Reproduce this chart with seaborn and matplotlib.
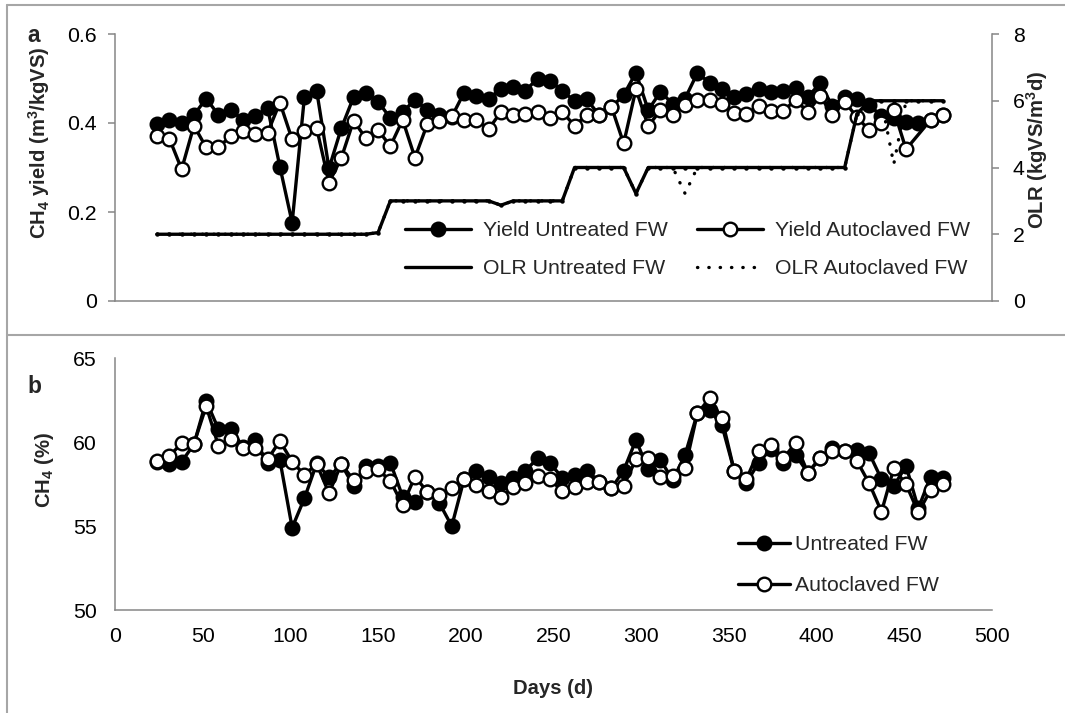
import numpy as np
import pandas as pd
import matplotlib
matplotlib.use('Agg')
import matplotlib.pyplot as plt
import seaborn as sns
from matplotlib.lines import Line2D
from matplotlib.ticker import MultipleLocator, FuncFormatter

# ---------------- data ----------------
days = [24, 31, 38, 45, 52, 59, 66, 73, 80, 87, 94, 101, 108, 115, 122, 129,
        136, 143, 150, 157, 164, 171, 178, 185, 192, 199, 206, 213, 220, 227,
        234, 241, 248, 255, 262, 269, 276, 283, 290, 297, 304, 311, 318, 325,
        332, 339, 346, 353, 360, 367, 374, 381, 388, 395, 402, 409, 416, 423,
        430, 437, 444, 451, 458, 465, 472]

yield_untreated = [0.397, 0.407, 0.399, 0.418, 0.455, 0.418, 0.429, 0.407, 0.416, 0.434,
                   0.302, 0.176, 0.459, 0.472, 0.298, 0.388, 0.458, 0.467, 0.448, 0.411,
                   0.425, 0.452, 0.429, 0.418, 0.414, 0.468, 0.461, 0.455, 0.476, 0.482,
                   0.473, 0.500, 0.495, 0.473, 0.449, 0.453, 0.418, 0.435, 0.463, 0.513,
                   0.429, 0.470, 0.443, 0.455, 0.512, 0.491, 0.476, 0.459, 0.465, 0.476,
                   0.470, 0.471, 0.478, 0.459, 0.489, 0.438, 0.459, 0.453, 0.440, 0.416,
                   0.411, 0.403, 0.401, 0.407, 0.418]

yield_autoclaved = [0.371, 0.365, 0.296, 0.394, 0.345, 0.345, 0.371, 0.383, 0.375, 0.378,
                    0.446, 0.363, 0.382, 0.388, 0.266, 0.321, 0.405, 0.366, 0.384, 0.348,
                    0.407, 0.322, 0.397, 0.405, 0.416, 0.407, 0.407, 0.386, 0.425, 0.418,
                    0.420, 0.424, 0.411, 0.425, 0.394, 0.418, 0.418, 0.437, 0.354, 0.476,
                    0.393, 0.429, 0.418, 0.440, 0.452, 0.452, 0.443, 0.423, 0.421, 0.438,
                    0.427, 0.427, 0.452, 0.425, 0.461, 0.418, 0.448, 0.413, 0.384, 0.399,
                    0.429, 0.341, np.nan, 0.407, 0.419]

olr_untreated = [2, 2, 2, 2, 2, 2, 2, 2, 2, 2, 2, 2, 2, 2, 2, 2, 2, 2, 2.05, 3,
                 3, 3, 3, 3, 3, 3, 3, 3, 2.87, 3, 3, 3, 3, 3, 4, 4, 4, 4, 4, 3.22,
                 4, 4, 4, 4, 4, 4, 4, 4, 4, 4, 4, 4, 4, 4, 4, 4, 4, 5.6, 6, 6,
                 6, 6, 6, 6, 6]

olr_autoclaved = [2, 2, 2, 2, 2, 2, 2, 2, 2, 2, 2, 2, 2, 2, 2, 2, 2, 2, 2.05, 3,
                  3, 3, 3, 3, 3, 3, 3, 3, 2.87, 3, 3, 3, 3, 3, 4, 4, 4, 4, 4, 3.22,
                  4, 4, 4, 3.22, 4, 4, 4, 4, 4, 4, 4, 4, 4, 4, 4, 4, 4, 5.6, 6, 6,
                  4.1, 6, 6, 6, 6]

ch4_untreated = [58.83, 58.69, 58.83, 59.86, 62.45, 60.76, 60.76, 59.72, 60.12, 58.73,
                 58.93, 54.90, 56.65, 58.73, 57.90, 58.69, 57.38, 58.57, 58.57, 58.77,
                 56.75, 56.45, 57.04, 56.35, 55.00, 57.78, 58.30, 57.94, 57.58, 57.88,
                 58.30, 59.03, 58.73, 57.88, 58.04, 58.30, 57.64, 57.24, 58.30, 60.12,
                 58.37, 58.93, 57.74, 59.23, 61.70, 61.90, 61.00, 58.30, 57.58, 58.77,
                 59.60, 58.73, 59.23, 58.17, 59.03, 59.62, 59.46, 59.52, 59.33, 57.78,
                 57.38, 58.57, 56.05, 57.94, 57.84]

ch4_autoclaved = [58.87, 59.17, 59.92, 59.90, 62.14, 59.76, 60.16, 59.62, 59.62, 58.97,
                  60.06, 58.83, 58.04, 58.69, 56.95, 58.69, 57.74, 58.30, 58.37, 57.68,
                  56.25, 57.94, 57.04, 56.85, 57.28, 57.78, 57.44, 57.10, 56.70, 57.34,
                  57.58, 57.98, 57.78, 57.08, 57.30, 57.64, 57.64, 57.24, 57.40, 58.97,
                  59.03, 57.90, 57.98, 58.43, 61.70, 62.60, 61.40, 58.30, 57.80, 59.46,
                  59.82, 59.03, 59.92, 58.17, 59.03, 59.48, 59.46, 58.87, 57.54, 55.85,
                  58.43, 57.48, 55.81, 57.14, 57.48]

yield_labels = ["Yield Untreated FW", "Yield Autoclaved FW"]
olr_labels = ["OLR Untreated FW", "OLR Autoclaved FW"]
ch4_labels = ["Untreated FW", "Autoclaved FW"]

# ---------------- style ----------------
sns.set_style('white')
plt.rcParams['font.family'] = ['Liberation Sans', 'DejaVu Sans']
plt.rcParams['mathtext.fontset'] = 'custom'
plt.rcParams['mathtext.rm'] = 'Liberation Sans:bold'
plt.rcParams['mathtext.it'] = 'Liberation Sans:bold'
plt.rcParams['mathtext.bf'] = 'Liberation Sans:bold'
plt.rcParams['mathtext.default'] = 'regular'

FS = 15.3
FSL = 14.6
GRAY = '#868686'
BORDER = '#a6a6a6'
LW = 2.4
MS = 9.8
MEW = 1.7

W, H = 1065, 713
fig = plt.figure(figsize=(W / 100, H / 100), dpi=100)


def fx(px):
    return px / W


def fy(py):
    return 1 - py / H


ax1 = fig.add_axes([fx(115), fy(301), fx(992) - fx(115), fy(34) - fy(301)])
ax2 = fig.add_axes([fx(115), fy(610), fx(992) - fx(115), fy(358) - fy(610)])
axr = ax1.twinx()


def draw_series(ax, x, y, filled, z):
    d = pd.DataFrame({'x': x, 'y': y}).dropna()
    sns.lineplot(data=d, x='x', y='y', ax=ax, color='black', lw=LW,
                 marker='o', markersize=MS,
                 markerfacecolor='black' if filled else 'white',
                 markeredgecolor='black', markeredgewidth=MEW,
                 sort=False, estimator=None, legend=False, zorder=z)


# panel a: yields
draw_series(ax1, days, yield_untreated, True, 3)
draw_series(ax1, days, yield_autoclaved, False, 4)

# panel a: OLR on secondary axis
d_olr = pd.DataFrame({'x': days, 'u': olr_untreated, 'a': olr_autoclaved})
sns.lineplot(data=d_olr, x='x', y='a', ax=axr, color='black', lw=LW,
             linestyle=(0, (0.1, 3.3)), dash_capstyle='round',
             sort=False, estimator=None, legend=False, zorder=2)
sns.lineplot(data=d_olr, x='x', y='u', ax=axr, color='black', lw=LW,
             marker='o', markersize=3.2, markeredgewidth=0,
             sort=False, estimator=None, legend=False, zorder=3)

# panel b: CH4 content
draw_series(ax2, days, ch4_untreated, True, 3)
draw_series(ax2, days, ch4_autoclaved, False, 4)

fmt = FuncFormatter(lambda v, p: f"{v:g}")

for ax in (ax1, ax2):
    ax.set_xlim(0, 500)
    ax.xaxis.set_major_locator(MultipleLocator(50))
    ax.set_xlabel('')
    ax.set_ylabel('')
    ax.set_facecolor('none')
    for s in ('top', 'right'):
        ax.spines[s].set_visible(False)
    for s in ('left', 'bottom'):
        ax.spines[s].set_color(GRAY)
        ax.spines[s].set_linewidth(1.1)
    ax.tick_params(axis='both', direction='out', length=5, width=1.1,
                   color=GRAY, labelsize=FS, labelcolor='black', pad=8)
    ax.yaxis.set_major_formatter(fmt)

ax1.set_ylim(0, 0.6)
ax1.yaxis.set_major_locator(MultipleLocator(0.2))
ax1.tick_params(axis='x', labelbottom=False)

axr.set_ylim(0, 8)
axr.yaxis.set_major_locator(MultipleLocator(2))
axr.yaxis.set_major_formatter(fmt)
axr.set_ylabel('')
axr.set_xlabel('')
for s in ('top', 'left', 'bottom'):
    axr.spines[s].set_visible(False)
axr.spines['right'].set_color(GRAY)
axr.spines['right'].set_linewidth(1.1)
axr.tick_params(axis='y', direction='out', length=5, width=1.1, color=GRAY,
                labelsize=FS, labelcolor='black', pad=10)

ax2.set_ylim(50, 65)
ax2.yaxis.set_major_locator(MultipleLocator(5))
ax2.tick_params(axis='x', pad=7)

# axis titles
fig.text(fx(39), fy(143), 'CH$_4$ yield (m$^3$/kgVS)', rotation=90,
         ha='center', va='center', fontsize=FSL, fontweight='bold')
fig.text(fx(1037), fy(150), 'OLR (kgVS/m$^3$d)', rotation=90,
         ha='center', va='center', fontsize=FSL, fontweight='bold')
fig.text(fx(45), fy(470), 'CH$_4$ (%)', rotation=90,
         ha='center', va='center', fontsize=FSL, fontweight='bold')
fig.text(fx(553), fy(688), 'Days (d)', ha='center', va='center',
         fontsize=FSL, fontweight='bold')
fig.text(fx(34), fy(36), 'a', ha='center', va='center', fontsize=FS + 1,
         fontweight='bold')
fig.text(fx(34), fy(386), 'b', ha='center', va='center', fontsize=FS + 1,
         fontweight='bold')

# legends
h_yu = Line2D([], [], color='black', lw=LW, marker='o', ms=MS, mfc='black',
              mec='black', mew=MEW)
h_ya = Line2D([], [], color='black', lw=LW, marker='o', ms=MS, mfc='white',
              mec='black', mew=MEW)
h_ou = Line2D([], [], color='black', lw=LW)
h_oa = Line2D([], [], color='black', lw=LW, ls=(0, (0.1, 3.3)),
              dash_capstyle='round')
leg1 = axr.legend([h_yu, h_ou, h_ya, h_oa],
                  [yield_labels[0], olr_labels[0], yield_labels[1], olr_labels[1]],
                  ncol=2, frameon=False, loc='upper left',
                  bbox_to_anchor=(fx(405), fy(221)), bbox_transform=fig.transFigure,
                  borderpad=0, borderaxespad=0, handlelength=3.1,
                  handletextpad=0.55, columnspacing=1.4, labelspacing=0.9,
                  fontsize=FS, numpoints=1)

leg2 = ax2.legend([h_yu, h_ya], ch4_labels, ncol=1, frameon=False,
                  loc='upper left', bbox_to_anchor=(fx(738), fy(535)),
                  bbox_transform=fig.transFigure, borderpad=0, borderaxespad=0,
                  handlelength=2.45, handletextpad=0.25, labelspacing=1.05,
                  fontsize=FS, numpoints=1)

# chart-area borders
for (x0, y0, x1, y1) in [(7, 5, 7, 713), (7, 5, 1065, 5), (7, 335, 1065, 335)]:
    fig.add_artist(Line2D([fx(x0), fx(x1)], [fy(y0), fy(y1)],
                          transform=fig.transFigure, color=BORDER, lw=1.5))

fig.savefig('out.png', dpi=100)
